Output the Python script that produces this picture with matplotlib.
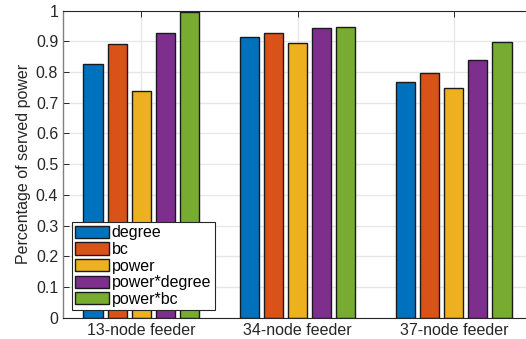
import numpy as np
import matplotlib
matplotlib.use('Agg')
import matplotlib.pyplot as plt

# served power fraction per ranking strategy and feeder
feeders = ['13-node feeder', '34-node feeder', '37-node feeder']
strategies = ['degree', 'bc', 'power', 'power*degree', 'power*bc']
degree = [0.825, 0.913, 0.768]
bc = [0.892, 0.926, 0.798]
power = [0.737, 0.893, 0.747]
power_degree = [0.926, 0.942, 0.838]
power_bc = [0.994, 0.945, 0.898]

colors = ['#0072BD', '#D95319', '#EDB120', '#7E2F8E', '#77AC30']

plt.rcParams['font.family'] = ['Liberation Sans', 'DejaVu Sans']
plt.rcParams['font.size'] = 11.5

fig = plt.figure(figsize=(5.26, 3.39), dpi=100)
ax = fig.add_axes([0.1198, 0.062, 0.8916, 0.907])

series = [degree, bc, power, power_degree, power_bc]
x = np.arange(1, len(feeders) + 1)
pitch = 0.769 / len(series)
for i, vals in enumerate(series):
    offs = (i - (len(series) - 1) / 2) * pitch
    ax.bar(x + offs, vals, width=pitch * 0.8, color=colors[i],
           edgecolor='#1a1a1a', linewidth=1.0, label=strategies[i])

ax.set_xlim(0.5, 3.5)
ax.set_ylim(0, 1)
ax.set_xticks(x)
ax.set_xticklabels(feeders)
yt = np.round(np.arange(0, 1.01, 0.1), 1)
ax.set_yticks(yt)
ax.set_yticklabels(['%g' % v for v in yt])

ax.set_axisbelow(True)
ax.grid(True, color='#e6e6e6', linewidth=0.9)
ax.tick_params(direction='in', length=4.5, width=0.7, colors='#262626',
               top=True, right=True, pad=3.5)
for side in ['top', 'bottom', 'right']:
    ax.spines[side].set_color('#262626')
    ax.spines[side].set_linewidth(0.8)
ax.spines['left'].set_color('#808080')
ax.spines['left'].set_linewidth(1.0)

ax.set_ylabel('Percentage of served power', color='#262626')
ax.yaxis.set_label_coords(-0.069, 0.5)

leg = ax.legend(loc='lower left', bbox_to_anchor=(0.019, 0.025),
                borderaxespad=0, fancybox=False, framealpha=1,
                edgecolor='#262626', handlelength=2.13, handleheight=0.8,
                handletextpad=0.15, labelspacing=0.1, borderpad=0.22)
leg.get_frame().set_linewidth(0.8)

fig.savefig('out.png', dpi=100)
